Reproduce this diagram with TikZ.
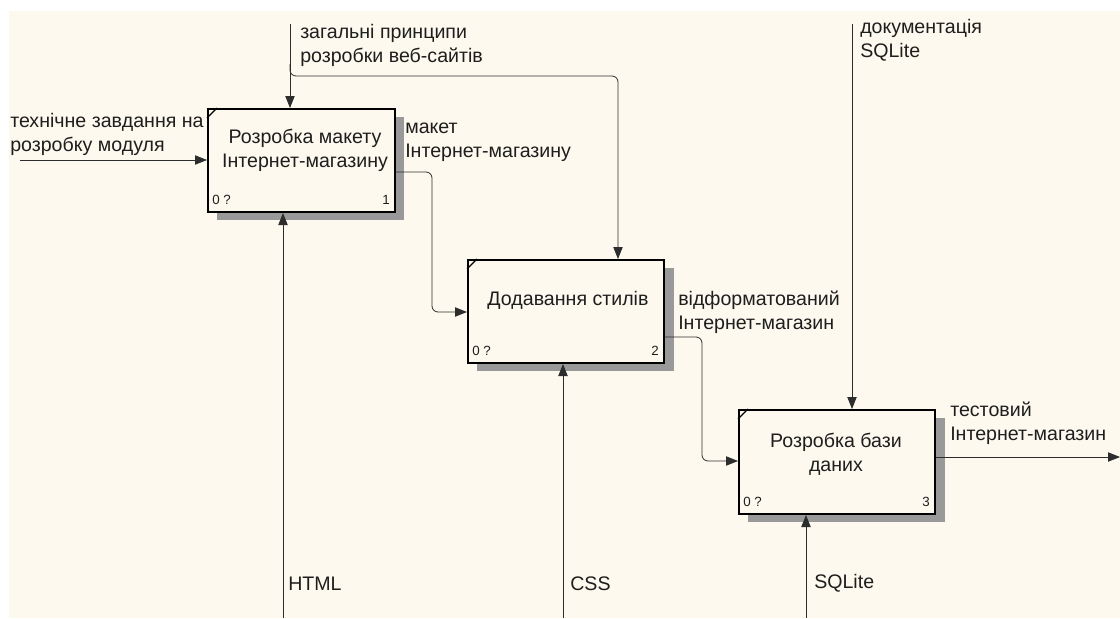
\documentclass[tikz,border=0pt]{standalone}
\usepackage{fontspec}
\setmainfont{Liberation Sans}
\usetikzlibrary{arrows.meta}
\definecolor{cream}{RGB}{253,249,238}
\definecolor{ink}{RGB}{30,30,30}
\definecolor{wire}{RGB}{45,45,45}
\tikzset{
  boxstyle/.style={draw=black, line width=1.5pt, fill=cream, inner sep=0pt, anchor=north west},
  shadowstyle/.style={fill=black!40, draw=none},
  lbl/.style={inner sep=0pt, anchor=west, align=left, text=ink, font=\fontsize{14.7pt}{18pt}\selectfont},
  ctext/.style={inner sep=0pt, align=center, text=ink, font=\fontsize{14.7pt}{18pt}\selectfont},
  small/.style={inner sep=0pt, text=ink, font=\fontsize{10pt}{11pt}\selectfont},
  wirestyle/.style={draw=wire, line width=0.6pt},
  arr/.style={wirestyle, -{Triangle[length=9pt,width=7pt]}},
}
\begin{document}
\begin{tikzpicture}[x=0.75pt,y=-0.75pt]
\useasboundingbox (0,0) rectangle (1120,618);
\fill[white] (0,0) rectangle (1120,618);
\fill[cream] (9,11) rectangle (1120,618);

% shadows
\fill[shadowstyle] (217,117) rectangle (404,220);
\fill[shadowstyle] (477,268) rectangle (674,371);
\fill[shadowstyle] (748,418) rectangle (945,522);

% boxes
\node[boxstyle, minimum width=140.25pt, minimum height=77.25pt] (b1) at (207,108) {};
\node[boxstyle, minimum width=147pt, minimum height=77.25pt] (b2) at (467,259) {};
\node[boxstyle, minimum width=147pt, minimum height=78pt] (b3) at (738,409) {};

% corner marks
\draw[black, line width=1pt] ([yshift=-7.5pt]b1.north west) -- ([xshift=7.5pt]b1.north west);
\draw[black, line width=1pt] ([yshift=-7.5pt]b2.north west) -- ([xshift=7.5pt]b2.north west);
\draw[black, line width=1pt] ([yshift=-7.5pt]b3.north west) -- ([xshift=7.5pt]b3.north west);

% box texts
\node[ctext] (t1) at (305,150) {Розробка макету\\Інтернет-магазину};
\node[ctext] (t2) at (568,300) {Додавання стилів};
\node[ctext] (t3) at (836,454) {Розробка бази\\даних};

\node[small, anchor=west] (n1a) at (212,200) {0 ?};
\node[small, anchor=east] (n1b) at (390,200) {1};
\node[small, anchor=west] (n2a) at (472,351) {0 ?};
\node[small, anchor=east] (n2b) at (659,351) {2};
\node[small, anchor=west] (n3a) at (743,502) {0 ?};
\node[small, anchor=east] (n3b) at (930,502) {3};

% coordinates
\coordinate (in1) at (20,160);
\coordinate (c1) at (290,24);
\coordinate (c1b) at (290,64);
\coordinate (c1r) at (618,76);
\coordinate (c3) at (852,24);
\coordinate (m1) at (283,618);
\coordinate (m2) at (563,618);
\coordinate (m3) at (806,618);
\coordinate (y172) at (0,172);
\coordinate (y312) at (0,312);
\coordinate (y337) at (0,337);
\coordinate (y461) at (0,461);
\coordinate (y457) at (0,457);
\coordinate (out3) at (1120,457);

% input
\draw[arr] (in1) -- (in1 -| b1.west);
% controls
\draw[arr] (c1) -- (c1 |- b1.north);
\draw[arr, rounded corners=4.5pt] (c1b) |- (c1r) -- (c1r |- b2.north);
\draw[arr] (c3) -- (c3 |- b3.north);
% outputs
\draw[arr, rounded corners=4.5pt] (b1.east |- y172) -- (432,172) -- (432,312) -- (b2.west |- y312);
\draw[arr, rounded corners=4.5pt] (b2.east |- y337) -- (702,337) -- (702,461) -- (b3.west |- y461);
\draw[arr] (b3.east |- y457) -- (out3);
% mechanisms
\draw[arr] (m1) -- (m1 |- b1.south);
\draw[arr] (m2) -- (m2 |- b2.south);
\draw[arr] (m3) -- (m3 |- b3.south);

% labels
\node[lbl] (l1) at (10,134) {технічне завдання на\\розробку модуля};
\node[lbl] (l2) at (300,45) {загальні принципи\\розробки веб-сайтів};
\node[lbl] (l3) at (405,142) {макет\\Інтернет-магазину};
\node[lbl] (l4) at (678,312) {відформатований\\Інтернет-магазин};
\node[lbl] (l5) at (950,423) {тестовий\\Інтернет-магазин};
\node[lbl] (l6) at (860,40) {документація\\SQLite};
\node[lbl] (l7) at (288,584) {HTML};
\node[lbl] (l8) at (570,584) {CSS};
\node[lbl] (l9) at (814,583) {SQLite};
\end{tikzpicture}
\end{document}
